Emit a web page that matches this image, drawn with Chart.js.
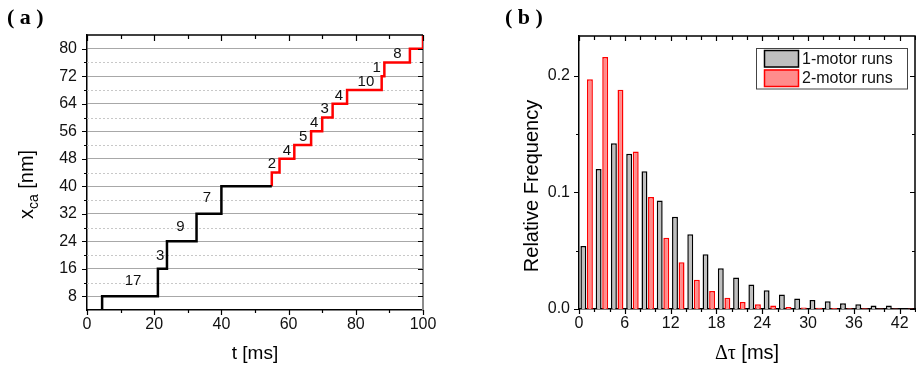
<!DOCTYPE html>
<html>
<head>
<meta charset="utf-8">
<script src="https://cdn.jsdelivr.net/npm/chart.js@4.4.0/dist/chart.umd.min.js"></script>
<style>
  html, body { margin: 0; padding: 0; background: #fff; }
  #wrap { display: flex; width: 916px; height: 370px; }
  .box { position: relative; width: 458px; height: 370px; }
</style>
</head>
<body>
<div id="wrap">
  <div class="box"><canvas id="chartA" width="458" height="370"></canvas></div>
  <div class="box"><canvas id="chartB" width="458" height="370"></canvas></div>
</div>
<script>
// Panel (a): step trace, one motor (black) then two motors (red)
const blackT = [4.5, 4.5, 21.1, 23.8, 32.6, 40.0, 55.0];
const blackX = [4, 8, 16, 24, 32, 40, 40];
const redT = [55.0, 55.0, 57.3, 61.7, 66.7, 70.0, 73.1, 77.4, 87.7, 88.5, 96.1, 100];
const redX = [40, 44, 48, 52, 56, 60, 64, 68, 72, 76, 80, 84];

// dwell-time labels written above each step
const dwellText = ['17', '3', '9', '7', '2', '4', '5', '4', '3', '4', '10', '1', '8'];
const dwellT = [13.7, 21.8, 27.8, 35.7, 55.0, 59.5, 64.3, 67.6, 70.7, 75.0, 83.0, 86.2, 92.4];
const dwellX = [12.5, 19.7, 28.3, 36.7, 46.5, 50.3, 54.4, 58.3, 62.4, 66.4, 70.4, 74.5, 78.4];

const tTicks = [0, 20, 40, 60, 80, 100];
const tMinor = [10, 30, 50, 70, 90];
const xcaTicks = [8, 16, 24, 32, 40, 48, 56, 64, 72, 80];
const xcaMinor = [12, 20, 28, 36, 44, 52, 60, 68, 76];

// Panel (b): dwell-time histogram, 2 ms bins
const binCenters = [1, 3, 5, 7, 9, 11, 13, 15, 17, 19, 21, 23, 25, 27, 29, 31, 33, 35, 37, 39, 41, 43];
const oneMotor = [0.054, 0.120, 0.142, 0.133, 0.118, 0.093, 0.079, 0.064, 0.047, 0.035, 0.027,
                  0.021, 0.016, 0.0125, 0.009, 0.0077, 0.0066, 0.005, 0.004, 0.003, 0.003, 0];
const twoMotor = [0.197, 0.216, 0.188, 0.135, 0.096, 0.061, 0.040, 0.025, 0.0155, 0.0097, 0.006,
                  0.004, 0.003, 0.0018, 0.0013, 0.001, 0.0008, 0.0007, 0.0006, 0.0005, 0.0005, 0.0005];

const dtTicks = [0, 6, 12, 18, 24, 30, 36, 42];
const dtMinor = [2, 4, 8, 10, 14, 16, 20, 22, 26, 28, 32, 34, 38, 40, 44];
const freqTicks = [0, 0.1, 0.2];
const freqMinor = [0.05, 0.15];

const SANS = "'Liberation Sans', Arial, sans-serif";
const SERIF = "'Liberation Serif', 'Times New Roman', serif";

// draw small tick marks on one side of the plot frame
function drawTickSet(chart, axis, values, len, side) {
  const ctx = chart.ctx, a = chart.chartArea, s = chart.scales[axis];
  ctx.beginPath();
  values.forEach(v => {
    const p = Math.round(s.getPixelForValue(v)) + 0.5;
    if (side === 'bottom') { ctx.moveTo(p, a.bottom); ctx.lineTo(p, a.bottom + len); }
    if (side === 'top') { ctx.moveTo(p, a.top); ctx.lineTo(p, a.top + len); }
    if (side === 'left') { ctx.moveTo(a.left - len, p); ctx.lineTo(a.left, p); }
    if (side === 'right') { ctx.moveTo(a.right - len, p); ctx.lineTo(a.right, p); }
  });
  ctx.stroke();
}

/**********************************************************/
/*                  Panel (a) decorations                 */
/**********************************************************/
const decoA = {
  id: 'decoA',
  beforeDatasetsDraw(chart) {
    const { ctx, chartArea: a, scales: { y } } = chart;
    ctx.save();
    // dotted minor grid
    ctx.strokeStyle = '#c8c8c8';
    ctx.lineWidth = 1;
    ctx.setLineDash([2, 2]);
    ctx.beginPath();
    xcaMinor.forEach(v => {
      const p = Math.round(y.getPixelForValue(v)) + 0.5;
      ctx.moveTo(a.left, p); ctx.lineTo(a.right, p);
    });
    ctx.stroke();
    ctx.setLineDash([]);
    // grey right frame, under the trace
    ctx.strokeStyle = '#8c8c8c';
    ctx.lineWidth = 2;
    ctx.beginPath(); ctx.moveTo(a.right, a.top); ctx.lineTo(a.right, a.bottom); ctx.stroke();
    ctx.restore();
  },
  afterDraw(chart) {
    const { ctx, chartArea: a, scales: { x, y } } = chart;
    ctx.save();
    // black top frame
    ctx.strokeStyle = '#000';
    ctx.lineWidth = 1.5;
    ctx.beginPath(); ctx.moveTo(a.left, a.top); ctx.lineTo(a.right, a.top); ctx.stroke();

    ctx.lineWidth = 1.2;
    drawTickSet(chart, 'x', tTicks, 5, 'bottom');
    drawTickSet(chart, 'x', tMinor, 3, 'bottom');
    drawTickSet(chart, 'x', tTicks, 6, 'top');
    drawTickSet(chart, 'x', tMinor, 4, 'top');
    drawTickSet(chart, 'y', xcaTicks, 5, 'left');
    drawTickSet(chart, 'y', xcaMinor, 3, 'left');
    drawTickSet(chart, 'y', xcaTicks, 5, 'right');
    drawTickSet(chart, 'y', xcaMinor, 3, 'right');

    // dwell labels
    ctx.fillStyle = '#111';
    ctx.font = '15px ' + SANS;
    ctx.textAlign = 'center';
    ctx.textBaseline = 'middle';
    dwellText.forEach((txt, i) => {
      ctx.fillText(txt, x.getPixelForValue(dwellT[i]), y.getPixelForValue(dwellX[i]));
    });

    // panel letter
    ctx.textAlign = 'left';
    ctx.textBaseline = 'alphabetic';
    ctx.fillStyle = '#000';
    ctx.font = 'bold 22px ' + SERIF;
    ctx.fillText('( a )', 7, 24);

    // x title
    ctx.font = '19px ' + SANS;
    ctx.textAlign = 'center';
    ctx.fillText('t [ms]', (a.left + a.right) / 2, 359);

    // y title with subscript
    ctx.translate(33, 184.5);
    ctx.rotate(-Math.PI / 2);
    ctx.textAlign = 'left';
    ctx.font = '20px ' + SANS;
    const w1 = ctx.measureText('x').width;
    const w3 = ctx.measureText(' [nm]').width;
    ctx.font = '14px ' + SANS;
    const w2 = ctx.measureText('ca').width;
    let px = -(w1 + w2 + w3) / 2;
    ctx.font = '20px ' + SANS;
    ctx.fillText('x', px, 0);
    px += w1;
    ctx.font = '14px ' + SANS;
    ctx.fillText('ca', px, 5);
    px += w2;
    ctx.font = '20px ' + SANS;
    ctx.fillText(' [nm]', px, 0);
    ctx.restore();
  }
};

new Chart(document.getElementById('chartA'), {
  type: 'line',
  data: {
    datasets: [
      {
        label: 'one motor',
        data: blackT.map((t, i) => ({ x: t, y: blackX[i] })),
        borderColor: '#000',
        borderWidth: 2.5,
        stepped: 'before',
        pointRadius: 0,
        fill: false
      },
      {
        label: 'two motors',
        data: redT.map((t, i) => ({ x: t, y: redX[i] })),
        borderColor: '#ff0000',
        borderWidth: 2.5,
        stepped: 'before',
        pointRadius: 0,
        fill: false
      }
    ]
  },
  options: {
    responsive: false,
    animation: false,
    events: [],
    layout: { padding: { top: 35, right: 35, left: 0, bottom: 0 } },
    plugins: { legend: { display: false }, tooltip: { enabled: false } },
    scales: {
      x: {
        type: 'linear',
        min: 0,
        max: 100,
        afterBuildTicks: s => { s.ticks = tTicks.map(v => ({ value: v })); },
        afterFit: s => { s.height = 60; },
        grid: { display: false, drawTicks: false },
        border: { color: '#000', width: 1.5 },
        ticks: { padding: 5, maxRotation: 0, color: '#111', font: { family: SANS, size: 16 } }
      },
      y: {
        type: 'linear',
        min: 4,
        max: 84,
        afterBuildTicks: s => { s.ticks = xcaTicks.map(v => ({ value: v })); },
        afterFit: s => { s.width = 87; },
        grid: { color: '#a8a8a8', lineWidth: 1, drawTicks: false },
        border: { color: '#000', width: 1.5 },
        ticks: { padding: 10, color: '#111', font: { family: SANS, size: 16 } }
      }
    }
  },
  plugins: [decoA]
});

/**********************************************************/
/*                  Panel (b) decorations                 */
/**********************************************************/
const decoB = {
  id: 'decoB',
  afterDraw(chart) {
    const { ctx, chartArea: a } = chart;
    ctx.save();
    ctx.strokeStyle = '#000';
    ctx.lineWidth = 1.5;
    ctx.beginPath();
    ctx.moveTo(a.left, a.top); ctx.lineTo(a.right, a.top); ctx.lineTo(a.right, a.bottom);
    ctx.stroke();

    ctx.lineWidth = 1.2;
    drawTickSet(chart, 'x', dtTicks, 5, 'bottom');
    drawTickSet(chart, 'x', dtMinor, 3, 'bottom');
    drawTickSet(chart, 'x', dtTicks, 5, 'top');
    drawTickSet(chart, 'x', dtMinor, 4, 'top');
    drawTickSet(chart, 'y', freqTicks, 5, 'left');
    drawTickSet(chart, 'y', freqMinor, 3, 'left');
    drawTickSet(chart, 'y', freqTicks, 5, 'right');
    drawTickSet(chart, 'y', freqMinor, 3, 'right');

    // legend box (top right inside plot)
    const bx = a.right - 159, by = a.top + 12, bw = 151, bh = 40.5;
    ctx.fillStyle = '#fff';
    ctx.fillRect(bx, by, bw, bh);
    ctx.strokeStyle = '#444';
    ctx.lineWidth = 1;
    ctx.strokeRect(bx + 0.5, by + 0.5, bw, bh);
    ctx.font = '16px ' + SANS;
    ctx.textAlign = 'left';
    ctx.textBaseline = 'middle';
    chart.data.datasets.forEach((ds, i) => {
      const sy = by + 2 + i * 19.5;
      ctx.fillStyle = ds.backgroundColor;
      ctx.fillRect(bx + 8, sy, 35, 17.5);
      ctx.strokeStyle = ds.borderColor;
      ctx.lineWidth = 1.5;
      ctx.strokeRect(bx + 8.5, sy + 0.5, 34, 16.5);
      ctx.fillStyle = '#111';
      ctx.fillText(ds.label, bx + 46, sy + 9.5);
    });

    // panel letter
    ctx.textBaseline = 'alphabetic';
    ctx.fillStyle = '#000';
    ctx.font = 'bold 22px ' + SERIF;
    ctx.fillText('( b )', 47, 24);

    // x title: Greek in serif, unit in sans
    ctx.font = '20px ' + SERIF;
    const g = ctx.measureText('\u0394\u03c4').width;
    ctx.font = '20px ' + SANS;
    const u = ctx.measureText(' [ms]').width;
    let px = (a.left + a.right) / 2 - (g + u) / 2;
    ctx.font = '20px ' + SERIF;
    ctx.fillText('\u0394\u03c4', px, 359);
    ctx.font = '20px ' + SANS;
    ctx.fillText(' [ms]', px + g, 359);

    // y title
    ctx.translate(80, 186);
    ctx.rotate(-Math.PI / 2);
    ctx.textAlign = 'center';
    ctx.fillText('Relative Frequency', 0, 0);
    ctx.restore();
  }
};

new Chart(document.getElementById('chartB'), {
  type: 'bar',
  data: {
    datasets: [
      {
        label: '1-motor runs',
        data: binCenters.map((c, i) => ({ x: c, y: oneMotor[i] })),
        backgroundColor: '#bfbfbf',
        borderColor: '#000',
        borderWidth: 1.5,
        categoryPercentage: 0.86,
        barPercentage: 0.9
      },
      {
        label: '2-motor runs',
        data: binCenters.map((c, i) => ({ x: c, y: twoMotor[i] })),
        backgroundColor: '#ff8c8c',
        borderColor: '#ff0000',
        borderWidth: 1.5,
        categoryPercentage: 0.86,
        barPercentage: 0.9
      }
    ]
  },
  options: {
    responsive: false,
    animation: false,
    events: [],
    layout: { padding: { top: 36, right: 1, left: 0, bottom: 0 } },
    plugins: { legend: { display: false }, tooltip: { enabled: false } },
    scales: {
      x: {
        type: 'linear',
        min: 0,
        max: 44,
        offset: false,
        afterBuildTicks: s => { s.ticks = dtTicks.map(v => ({ value: v })); },
        afterFit: s => { s.height = 61; },
        grid: { display: false, drawTicks: false },
        border: { color: '#000', width: 1.5 },
        ticks: { padding: 5, maxRotation: 0, color: '#111', font: { family: SANS, size: 16 } }
      },
      y: {
        type: 'linear',
        min: 0,
        max: 0.234,
        afterBuildTicks: s => { s.ticks = freqTicks.map(v => ({ value: v })); },
        afterFit: s => { s.width = 121; },
        grid: { display: false, drawTicks: false },
        border: { color: '#000', width: 1.5 },
        ticks: {
          padding: 9,
          color: '#111',
          font: { family: SANS, size: 16 },
          callback: v => v.toFixed(1)
        }
      }
    }
  },
  plugins: [decoB]
});
</script>
</body>
</html>
